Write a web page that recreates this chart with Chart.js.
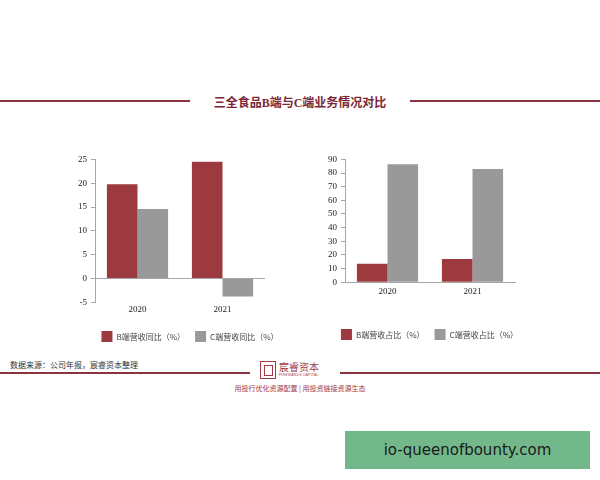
<!DOCTYPE html>
<html>
<head>
<meta charset="utf-8">
<script src="https://cdn.jsdelivr.net/npm/chart.js@4"></script>
<style>
  body { margin: 0; width: 600px; height: 480px; background: #fff; position: relative; overflow: hidden;
         font-family: "Liberation Serif", "Noto Sans CJK SC", serif; }
  .rule { position: absolute; height: 2px; background: #8c3340; }
  #title { position: absolute; top: 93px; left: 0; width: 600px; text-align: center; font-size: 12px;
           color: #7a2836; font-weight: bold; font-family: "Liberation Serif", "Noto Sans CJK SC", serif; }
  .box { position: absolute; }
  #source { position: absolute; left: 10px; top: 359px; font-size: 8px; color: #333; font-family: "Noto Sans CJK SC", sans-serif; }
  #logo { position: absolute; left: 260px; top: 361px; width: 80px; height: 22px; }
  #logo .icon { position: absolute; left: 0; top: 0; width: 16px; height: 18px; border: 1.5px solid #a33a46; box-sizing: border-box; }
  #logo .icon::after { content: ""; position: absolute; left: 3px; top: 3px; width: 7px; height: 9px; border: 1px solid #a33a46; }
  #logo .name { position: absolute; left: 19px; top: 0; font-size: 10px; color: #a33a46; font-family: "Noto Sans CJK SC", sans-serif; line-height: 12px; }
  #logo .en { position: absolute; left: 19px; top: 12px; font-size: 3.5px; color: #a33a46; font-family: "Liberation Sans", sans-serif; letter-spacing: 0.2px; }
  #motto { position: absolute; left: 0; width: 600px; top: 383px; text-align: center; font-size: 7px; color: #a33a46; font-family: "Noto Sans CJK SC", sans-serif; }
  #stamp { position: absolute; left: 345px; top: 431px; width: 245px; height: 38px; background: #72b88a;
           color: #1a1a1a; font-family: "DejaVu Sans", sans-serif; font-size: 15px; line-height: 38px; text-align: center; }
</style>
</head>
<body>
<div class="rule" style="left:0; width:190px; top:100px;"></div>
<div class="rule" style="left:410px; width:190px; top:100px;"></div>
<div id="title">三全食品B端与C端业务情况对比</div>

<div class="box" style="left:74px; top:150px; width:232px; height:202px;"><canvas id="growthChart"></canvas></div>
<div class="box" style="left:324px; top:150px; width:211px; height:200px;"><canvas id="shareChart"></canvas></div>

<div id="source">数据来源：公司年报，宸睿资本整理</div>
<div class="rule" style="left:0; width:250px; top:372px; height:1.5px;"></div>
<div class="rule" style="left:340px; width:260px; top:372px; height:1.5px;"></div>
<div id="logo"><div class="icon"></div><div class="name">宸睿资本</div><div class="en">FIREWARDS CAPITAL</div></div>
<div id="motto">用投行优化资源配置 | 用投资链接资源生态</div>
<div id="stamp">io-queenofbounty.com</div>

<script>
const years = ['2020', '2021'];
const bGrowth = [19.8, 24.5];
const cGrowth = [14.6, -3.8];
const bShare = [13.5, 17.0];
const cShare = [86.5, 83.0];
const growthTicks = { min: -5, max: 25, step: 5 };
const shareTicks = { min: 0, max: 90, step: 10 };

const red = '#9c3a40';
const gray = '#999999';
const axisColor = '#a6a6a6';

Chart.defaults.font.family = '"Liberation Serif", "Noto Sans CJK SC", serif';
Chart.defaults.font.size = 9;
Chart.defaults.color = '#333';
Chart.defaults.animation = false;

function makeChart(id, labelB, labelC, valsB, valsC, ticks, zeroLine, rightPad, labelPad, extraX) {
    const ctx = document.getElementById(id).getContext('2d');
    return new Chart(ctx, {
        type: 'bar',
        data: {
            labels: years,
            datasets: [
                { label: labelB, data: valsB, backgroundColor: red, barPercentage: 1, categoryPercentage: 0.72 },
                { label: labelC, data: valsC, backgroundColor: gray, barPercentage: 1, categoryPercentage: 0.72 }
            ]
        },
        options: {
            responsive: true,
            maintainAspectRatio: false,
            layout: { padding: { top: 4 } },
            plugins: {
                tooltip: { enabled: false },
                legend: {
                    position: 'bottom',
                    labels: {
                        boxWidth: 11, boxHeight: 11, padding: 10,
                        font: { family: '"Noto Sans CJK SC", sans-serif', size: 8 },
                        color: '#444'
                    }
                }
            },
            scales: {
                x: {
                    grid: { display: false, drawTicks: false },
                    border: { display: !zeroLine, color: axisColor },
                    ticks: { padding: labelPad, font: { size: 9 }, color: '#222' },
                    afterFit: s => { s.height += extraX; }
                },
                y: {
                    min: ticks.min, max: ticks.max,
                    ticks: { stepSize: ticks.step, padding: 4, color: '#222', autoSkip: false },
                    grid: {
                        color: c => (zeroLine && c.tick && c.tick.value === 0) ? axisColor : 'transparent',
                        tickColor: axisColor,
                        tickLength: 4
                    },
                    border: { color: axisColor }
                },
                // empty right-hand axis, only reserves room so the plot sits left of the legend centre
                spacer: {
                    type: 'linear', position: 'right',
                    grid: { display: false }, border: { display: false },
                    ticks: { display: false },
                    afterFit: s => { s.width = rightPad; }
                }
            }
        }
    });
}

makeChart('growthChart', 'B端营收同比（%）', 'C端营收同比（%）', bGrowth, cGrowth, growthTicks, true, 41, 2, 4);
makeChart('shareChart', 'B端营收占比（%）', 'C端营收占比（%）', bShare, cShare, shareTicks, false, 20, 4, 18);
</script>
</body>
</html>
